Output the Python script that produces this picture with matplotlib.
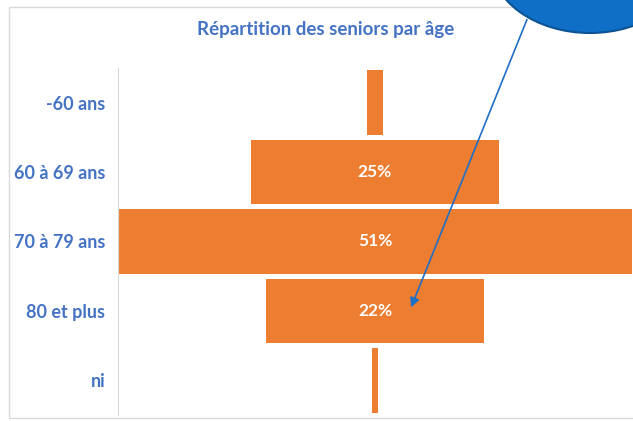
import matplotlib.pyplot as plt
from matplotlib.patches import Ellipse, Rectangle, FancyArrowPatch

# data (share of seniors, %)
categories = ["-60 ans", "60 à 69 ans", "70 à 79 ans", "80 et plus", "ni"]
shares = [1.5, 24.6, 51, 21.7, 0.5]
shown_labels = ["", "25%", "51%", "22%", ""]

W, H = 633, 421
bar_color = "#ED7D31"
text_blue = "#4472C4"

plt.rcParams['font.family'] = ['Lato', 'DejaVu Sans']

fig = plt.figure(figsize=(W / 100, H / 100), dpi=100)
fig.patch.set_facecolor("white")

# plot area in pixels: x 118..632, y 68..415
ax = fig.add_axes([118 / W, (H - 415) / H, (632 - 118) / W, (415 - 68) / H])
ypos = list(range(len(categories)))
lefts = [-v / 2 for v in shares]
ax.barh(ypos, shares, left=lefts, height=0.93, color=bar_color)
for y, lab in zip(ypos, shown_labels):
    if lab:
        ax.text(0, y, lab, ha="center", va="center", color="white",
                fontsize=12.5, fontweight="bold")

ax.set_xlim(-max(shares) / 2, max(shares) / 2)
ax.set_ylim(len(categories) - 0.5, -0.5)
ax.set_yticks(ypos)
ax.set_yticklabels(categories, color=text_blue, fontsize=13, fontweight="bold")
ax.tick_params(axis="y", length=0, pad=9)
ax.set_xticks([])
for side in ["top", "right", "bottom"]:
    ax.spines[side].set_visible(False)
ax.spines["left"].set_color("#d9d9d9")

# overlay in pixel coordinates for frame, title and callout
over = fig.add_axes([0, 0, 1, 1], zorder=5)
over.set_xlim(0, W)
over.set_ylim(H, 0)
over.axis("off")
over.patch.set_alpha(0)

over.add_patch(Rectangle((9, 7), 640, 411, fill=False, edgecolor="#d9d9d9", lw=1))
over.text(326, 29, "Répartition des seniors par âge", ha="center", va="center",
          color=text_blue, fontsize=13.5, fontweight="bold")

over.add_patch(Ellipse((590, -40), 200, 146, facecolor="#0F6FC6",
                       edgecolor="#0B5394", lw=1.5))
over.add_patch(FancyArrowPatch((528, 17), (410, 310), arrowstyle="-|>",
                               mutation_scale=14, color="#1F6FC5", lw=1.2))

fig.savefig("out.png", dpi=100)
